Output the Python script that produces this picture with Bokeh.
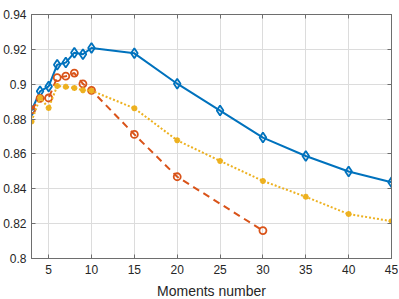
from bokeh.plotting import figure
from bokeh.models import Range1d, LinearAxis, FixedTicker, CustomJSTickFormatter
from bokeh.embed import file_html
from bokeh.resources import INLINE

# Data
x_blue = [3, 4, 5, 6, 7, 8, 9, 10, 15, 20, 25, 30, 35, 40, 45]
y_blue = [0.8848, 0.8959, 0.8987, 0.9112, 0.9124, 0.9181, 0.9172, 0.9208,
          0.9177, 0.9003, 0.8849, 0.8694, 0.8588, 0.8499, 0.8437]

x_orange = [3, 4, 5, 6, 7, 8, 9, 10, 15, 20, 30]
y_orange = [0.8853, 0.8919, 0.8921, 0.9038, 0.9046, 0.9064, 0.9002, 0.8965,
            0.8712, 0.8469, 0.8160]

x_yellow = [3, 4, 5, 6, 7, 8, 9, 10, 15, 20, 25, 30, 35, 40, 45]
y_yellow = [0.8786, 0.8922, 0.8864, 0.8990, 0.8985, 0.8978, 0.8966, 0.8963,
            0.8862, 0.8678, 0.8560, 0.8445, 0.8354, 0.8255, 0.8214]

x_ticks = [5, 10, 15, 20, 25, 30, 35, 40, 45]
y_ticks = [0.8, 0.82, 0.84, 0.86, 0.88, 0.9, 0.92, 0.94]
x_label = "Moments number"

BLUE = "#0072BD"
ORANGE = "#D95319"
YELLOW = "#EDB120"
AXC = "#6e6e6e"
FONT = "Liberation Sans"

p = figure(frame_width=360, frame_height=244, output_backend="svg",
           toolbar_location=None, x_range=Range1d(3, 45), y_range=Range1d(0.8, 0.94),
           min_border_left=31, min_border_right=7, min_border_top=14, min_border_bottom=40,
           background_fill_color="white", border_fill_color="white")
p.outline_line_color = AXC
p.outline_line_width = 1

fmt = CustomJSTickFormatter(code="return String(Number(tick.toFixed(2)));")

xa = p.xaxis[0]
xa.ticker = FixedTicker(ticks=x_ticks)
ya = p.yaxis[0]
ya.ticker = FixedTicker(ticks=y_ticks)
ya.formatter = fmt
for ax in (xa, ya):
    ax.major_tick_in = 4
    ax.major_tick_out = 0
    ax.minor_tick_in = 0
    ax.minor_tick_out = 0
    ax.axis_line_color = AXC
    ax.major_tick_line_color = AXC
    ax.major_label_text_font = FONT
    ax.major_label_text_font_size = "12px"
    ax.major_label_text_color = "#262626"
xa.major_label_standoff = 6
ya.major_label_standoff = 5
xa.axis_label = x_label
xa.axis_label_text_font = FONT
xa.axis_label_text_font_size = "14px"
xa.axis_label_text_font_style = "normal"
xa.axis_label_text_color = "#262626"
xa.axis_label_standoff = 6

# top and right boxed ticks (no labels)
blank = CustomJSTickFormatter(code="return '';")
top = LinearAxis(ticker=FixedTicker(ticks=x_ticks), formatter=blank,
                 major_tick_in=4, major_tick_out=0, minor_tick_in=0, minor_tick_out=0,
                 axis_line_color=AXC, major_tick_line_color=AXC, major_label_standoff=0)
right = LinearAxis(ticker=FixedTicker(ticks=y_ticks), formatter=blank,
                   major_tick_in=4, major_tick_out=0, minor_tick_in=0, minor_tick_out=0,
                   axis_line_color=AXC, major_tick_line_color=AXC, major_label_standoff=0)
p.add_layout(top, "above")
p.add_layout(right, "right")

p.xgrid.ticker = FixedTicker(ticks=x_ticks)
p.ygrid.ticker = FixedTicker(ticks=y_ticks)
p.grid.grid_line_color = "#dcdcdc"
p.grid.grid_line_width = 1

# series
p.line(x_blue, y_blue, color=BLUE, line_width=2)
p.scatter(x_blue, y_blue, marker="diamond", size=10, line_color=BLUE, line_width=1.8,
          fill_alpha=0)

p.line(x_orange, y_orange, color=ORANGE, line_width=2, line_dash="7 5")
p.scatter(x_orange, y_orange, marker="circle", size=7, line_color=ORANGE, line_width=1.8,
          fill_alpha=0)

p.line(x_yellow, y_yellow, color=YELLOW, line_width=2, line_dash="2 2")
p.scatter(x_yellow, y_yellow, marker="asterisk", size=6, line_color=YELLOW, line_width=1.8)

open("out.html", "w").write(file_html(p, INLINE))
